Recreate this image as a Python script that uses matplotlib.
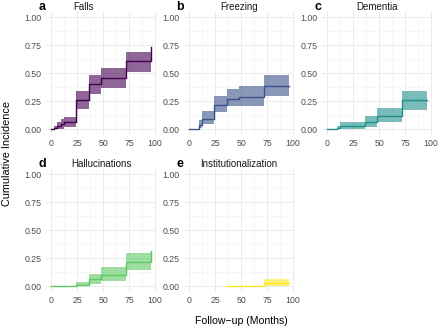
import numpy as np
import matplotlib
matplotlib.use("Agg")
import matplotlib.pyplot as plt
from matplotlib.ticker import MultipleLocator

plt.rcParams["font.family"] = ["Liberation Sans", "DejaVu Sans"]

# cumulative incidence curves (months, estimate, 95% band)
falls_t = [0, 3, 6, 9, 12, 24, 36, 48, 72, 96]
falls_est = [0, 0.01, 0.025, 0.045, 0.065, 0.26, 0.40, 0.46, 0.61, 0.73]
falls_lo = [0, 0, 0, 0.005, 0.02, 0.18, 0.31, 0.37, 0.51, 0.51]
falls_hi = [0, 0.03, 0.06, 0.09, 0.11, 0.34, 0.48, 0.55, 0.69, 0.69]

freez_t = [0, 9, 12, 24, 36, 48, 72, 96]
freez_est = [0, 0.04, 0.09, 0.22, 0.27, 0.29, 0.39, 0.39]
freez_lo = [0, 0.01, 0.05, 0.15, 0.21, 0.21, 0.30, 0.30]
freez_hi = [0, 0.08, 0.16, 0.30, 0.36, 0.39, 0.48, 0.48]

dem_t = [0, 9, 12, 36, 48, 72, 96]
dem_est = [0, 0.01, 0.03, 0.06, 0.12, 0.26, 0.26]
dem_lo = [0, 0, 0.005, 0.02, 0.06, 0.17, 0.17]
dem_hi = [0, 0.03, 0.06, 0.12, 0.19, 0.34, 0.34]

hall_t = [0, 24, 36, 48, 72, 96]
hall_est = [0, 0.01, 0.06, 0.10, 0.22, 0.31]
hall_lo = [0, 0, 0.02, 0.05, 0.14, 0.14]
hall_hi = [0, 0.04, 0.11, 0.17, 0.30, 0.30]

inst_t = [36, 72, 96]
inst_est = [0, 0.03, 0.03]
inst_lo = [0, 0.005, 0.005]
inst_hi = [0, 0.06, 0.06]

panels = [
    ("a", "Falls", falls_t, falls_est, falls_lo, falls_hi, "#440154"),
    ("b", "Freezing", freez_t, freez_est, freez_lo, freez_hi, "#3B528B"),
    ("c", "Dementia", dem_t, dem_est, dem_lo, dem_hi, "#21908C"),
    ("d", "Hallucinations", hall_t, hall_est, hall_lo, hall_hi, "#5DC863"),
    ("e", "Institutionalization", inst_t, inst_est, inst_lo, inst_hi, "#FDE725"),
]

W, H = 440, 330
fig = plt.figure(figsize=(W / 100, H / 100), dpi=100)

lefts = [46, 184, 322]
tops = [11.7, 168.7]
pw, ph = 110, 123

for i, (letter, title, t, est, lo, hi, col) in enumerate(panels):
    r, c = divmod(i, 3)
    x0, y0 = lefts[c], tops[r]
    ax = fig.add_axes([x0 / W, 1 - (y0 + ph) / H, pw / W, ph / H])
    ax.fill_between(t, lo, hi, step="post", color=col, alpha=0.6, lw=0)
    ax.step(t, est, where="post", color=col, lw=1.0)
    ax.set_xlim(-5, 101)
    ax.set_ylim(-0.05, 1.05)
    ax.xaxis.set_major_locator(MultipleLocator(25))
    ax.xaxis.set_minor_locator(MultipleLocator(12.5))
    ax.yaxis.set_major_locator(MultipleLocator(0.25))
    ax.yaxis.set_minor_locator(MultipleLocator(0.125))
    ax.set_yticklabels([f"{v:.2f}" for v in ax.get_yticks()])
    ax.grid(which="major", color="#EBEBEB", lw=0.7)
    ax.grid(which="minor", color="#F2F2F2", lw=0.4)
    ax.set_axisbelow(True)
    for s in ax.spines.values():
        s.set_visible(False)
    ax.tick_params(which="both", length=0, labelsize=6.3, labelcolor="#4D4D4D", pad=3)
    tx = 83 if i == 0 else x0 + pw / 2
    fig.text(tx / W, 1 - (y0 - 5) / H, title, ha="center", va="center",
             fontsize=7, color="#1A1A1A")
    fig.text((x0 - 4) / W, 1 - (y0 - 5) / H, letter, ha="center", va="center",
             fontsize=9, fontweight="bold", color="black")

fig.text(7 / W, 1 - 153 / H, "Cumulative Incidence", rotation=90,
         ha="center", va="center", fontsize=7.8)
fig.text(241 / W, 1 - 321 / H, "Follow\u2212up (Months)", ha="center",
         va="center", fontsize=7.6)

fig.savefig("out.png", dpi=100, facecolor="white")
